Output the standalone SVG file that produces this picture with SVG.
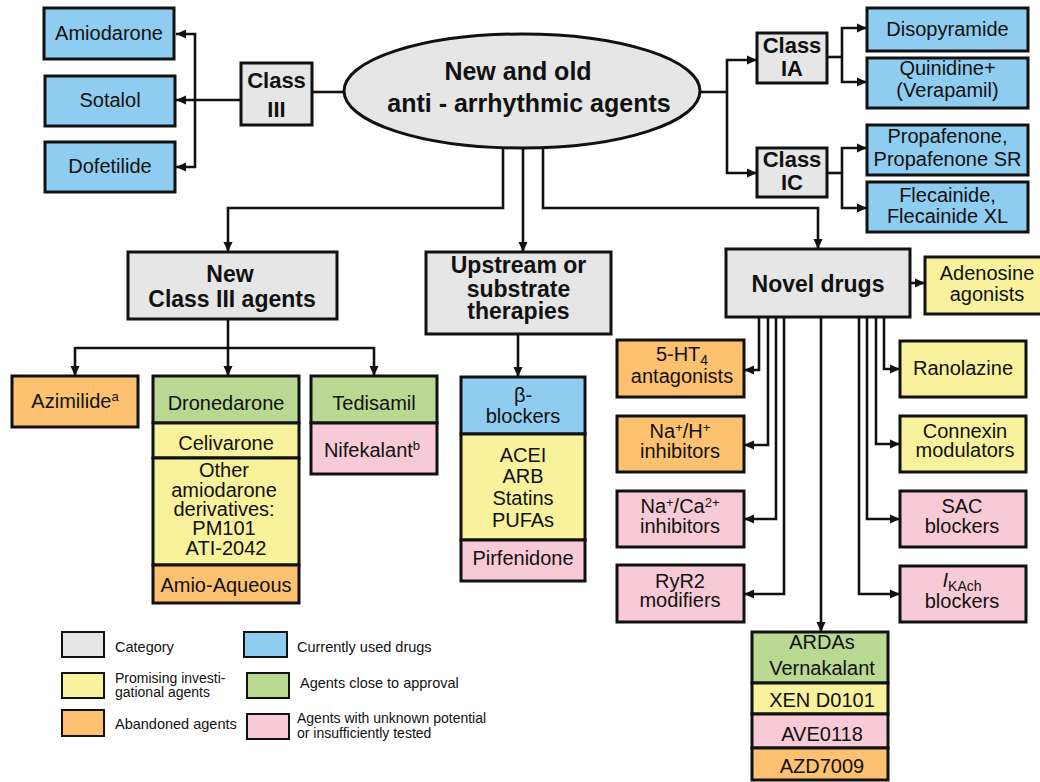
<svg xmlns="http://www.w3.org/2000/svg" width="1040" height="782" viewBox="0 0 1040 782">
<defs>
<style>
text{font-family:"Liberation Sans",Arial,sans-serif;fill:#111;text-anchor:middle}
.t{font-size:20px}
.h{font-size:23px;font-weight:bold}
.c{font-size:22px;font-weight:bold}
.lg{font-size:14.5px;text-anchor:start}
.lg2{font-size:14px;text-anchor:start}
.bx{stroke:#111;stroke-width:3}
.sw{stroke:#111;stroke-width:2}
.g{fill:#e6e6e6}.b{fill:#8fcdf0}.y{fill:#f9f29d}.gr{fill:#b9d992}.o{fill:#fdc170}.p{fill:#f8cad7}
.ln{stroke:#111;stroke-width:2.6;fill:none}
.ar{marker-end:url(#ah)}
</style>
<marker id="ah" markerUnits="userSpaceOnUse" markerWidth="10" markerHeight="10" viewBox="0 0 10 10" refX="10" refY="5" orient="auto">
<path d="M0,0.5 L10,5 L0,9.5 z" fill="#111"/>
</marker>
</defs>
<rect width="1040" height="782" fill="#fff"/>

<g id="connectors">
<path class="ln" d="M344,92 H312"/>
<path class="ln ar" d="M241,100 H176"/>
<path class="ln ar" d="M195,100 V34 H176"/>
<path class="ln ar" d="M195,100 V167 H176"/>
<path class="ln" d="M700,92 H727"/>
<path class="ln ar" d="M727,92 V60 H757"/>
<path class="ln ar" d="M727,92 V173 H757"/>
<path class="ln" d="M827,57 H842"/>
<path class="ln ar" d="M842,57 V28 H867"/>
<path class="ln ar" d="M842,57 V82 H867"/>
<path class="ln" d="M827,173 H842"/>
<path class="ln ar" d="M842,173 V148 H867"/>
<path class="ln ar" d="M842,173 V208 H867"/>
<path class="ln ar" d="M503,146 V208 H228 V252"/>
<path class="ln ar" d="M523,148 V252"/>
<path class="ln ar" d="M543,146 V208 H818 V249"/>
<path class="ln" d="M228,319 V348 H75"/>
<path class="ln" d="M228,348 H374"/>
<path class="ln ar" d="M75,347 V376"/>
<path class="ln ar" d="M228,347 V376"/>
<path class="ln ar" d="M374,347 V376"/>
<path class="ln ar" d="M518,334 V377"/>
<path class="ln ar" d="M910,283 H925"/>
<path class="ln ar" d="M759,317 V370 H744"/>
<path class="ln ar" d="M768,317 V445 H744"/>
<path class="ln ar" d="M776,317 V519 H744"/>
<path class="ln ar" d="M784,317 V594 H744"/>
<path class="ln ar" d="M821,317 V632"/>
<path class="ln ar" d="M884,317 V369 H900"/>
<path class="ln ar" d="M876,317 V444 H900"/>
<path class="ln ar" d="M867,317 V519 H900"/>
<path class="ln ar" d="M859,317 V594 H900"/>
</g>

<g id="root">
<ellipse cx="522" cy="91" rx="178" ry="57" class="g" stroke="#111" stroke-width="3"/>
<text x="518" y="80" style="font-size:25px;font-weight:bold">New and old</text>
<text x="529" y="112" style="font-size:25px;font-weight:bold">anti - arrhythmic agents</text>
</g>

<g id="class3">
<rect x="241" y="63" width="71" height="62" class="bx g"/>
<text class="c" x="276.5" y="88">Class</text>
<text class="c" x="276.5" y="117">III</text>
</g>
<g id="amiodarone"><rect x="44" y="8" width="130" height="51" class="bx b"/><text class="t" x="109" y="40">Amiodarone</text></g>
<g id="sotalol"><rect x="45" y="76" width="130" height="50" class="bx b"/><text class="t" x="110" y="107">Sotalol</text></g>
<g id="dofetilide"><rect x="45" y="142" width="130" height="50" class="bx b"/><text class="t" x="110" y="173">Dofetilide</text></g>

<g id="class1a"><rect x="757" y="33" width="70" height="50" class="bx g"/><text class="c" x="792" y="53">Class</text><text class="c" x="792" y="76">IA</text></g>
<g id="class1c"><rect x="757" y="148" width="70" height="49" class="bx g"/><text class="c" x="792" y="167">Class</text><text class="c" x="792" y="190">IC</text></g>
<g id="disopyramide"><rect x="867" y="8" width="161" height="43" class="bx b"/><text class="t" x="947.5" y="36">Disopyramide</text></g>
<g id="quinidine"><rect x="867" y="58" width="161" height="50" class="bx b"/><text class="t" x="947.5" y="75">Quinidine+</text><text class="t" x="947.5" y="97">(Verapamil)</text></g>
<g id="propafenone"><rect x="867" y="125" width="161" height="50" class="bx b"/><text class="t" x="947.5" y="143">Propafenone,</text><text class="t" x="947.5" y="166">Propafenone SR</text></g>
<g id="flecainide"><rect x="867" y="182" width="161" height="50" class="bx b"/><text class="t" x="947.5" y="202">Flecainide,</text><text class="t" x="947.5" y="223">Flecainide XL</text></g>

<g id="newclass3"><rect x="128" y="252" width="209" height="67" class="bx g"/><text class="h" x="230" y="282">New</text><text class="h" x="232" y="307">Class III agents</text></g>
<g id="azimilide"><rect x="12" y="376" width="126" height="51" class="bx o"/><text class="t" x="75" y="408">Azimilide<tspan font-size="13" baseline-shift="7">a</tspan></text></g>
<g id="dronedarone-stack">
<rect x="153" y="376" width="146" height="47" class="bx gr"/>
<rect x="153" y="423" width="146" height="35" class="bx y"/>
<rect x="153" y="458" width="146" height="107" class="bx y"/>
<rect x="153" y="565" width="146" height="38" class="bx o"/>
<text class="t" x="226" y="410">Dronedarone</text>
<text class="t" x="226" y="450">Celivarone</text>
<text class="t" x="224" y="477">Other</text>
<text class="t" x="224" y="497">amiodarone</text>
<text class="t" x="224" y="516">derivatives:</text>
<text class="t" x="224" y="535">PM101</text>
<text class="t" x="226" y="555">ATI-2042</text>
<text class="t" x="226" y="592">Amio-Aqueous</text>
</g>
<g id="tedisamil-stack">
<rect x="311" y="376" width="126" height="47" class="bx gr"/>
<rect x="311" y="423" width="126" height="51" class="bx p"/>
<text class="t" x="374" y="410">Tedisamil</text>
<text class="t" x="372" y="457">Nifekalant<tspan font-size="13" baseline-shift="7">b</tspan></text>
</g>

<g id="upstream"><rect x="426" y="252" width="185" height="82" class="bx g"/><text class="h" x="518.5" y="273">Upstream or</text><text class="h" x="518.5" y="297">substrate</text><text class="h" x="518.5" y="319">therapies</text></g>
<g id="upstream-stack">
<rect x="461" y="377" width="124" height="57" class="bx b"/>
<rect x="461" y="434" width="124" height="106" class="bx y"/>
<rect x="461" y="540" width="124" height="41" class="bx p"/>
<text class="t" x="523" y="402">β-</text>
<text class="t" x="523" y="423">blockers</text>
<text class="t" x="523" y="462">ACEI</text>
<text class="t" x="523" y="483">ARB</text>
<text class="t" x="523" y="505">Statins</text>
<text class="t" x="523" y="527">PUFAs</text>
<text class="t" x="523" y="565">Pirfenidone</text>
</g>

<g id="novel"><rect x="726" y="249" width="184" height="68" class="bx g"/><text class="h" x="818" y="292">Novel drugs</text></g>
<g id="adenosine"><rect x="925" y="257" width="122" height="57" class="bx y"/><text class="t" x="987" y="280">Adenosine</text><text class="t" x="987" y="301">agonists</text></g>
<g id="ht4"><rect x="617" y="340" width="127" height="57" class="bx o"/><text class="t" x="682" y="361">5-HT<tspan font-size="14" baseline-shift="-4">4</tspan></text><text class="t" x="682" y="383">antagonists</text></g>
<g id="nah"><rect x="617" y="416" width="127" height="56" class="bx o"/><text class="t" x="680" y="438">Na<tspan font-size="13" baseline-shift="6">+</tspan>/H<tspan font-size="13" baseline-shift="6">+</tspan></text><text class="t" x="680" y="458">inhibitors</text></g>
<g id="naca"><rect x="617" y="491" width="127" height="56" class="bx p"/><text class="t" x="680" y="513">Na<tspan font-size="13" baseline-shift="6">+</tspan>/Ca<tspan font-size="13" baseline-shift="6">2+</tspan></text><text class="t" x="680" y="533">inhibitors</text></g>
<g id="ryr2"><rect x="617" y="565" width="127" height="57" class="bx p"/><text class="t" x="680" y="588">RyR2</text><text class="t" x="680" y="607">modifiers</text></g>
<g id="ranolazine"><rect x="900" y="341" width="126" height="56" class="bx y"/><text class="t" x="963" y="375">Ranolazine</text></g>
<g id="connexin"><rect x="900" y="416" width="126" height="56" class="bx y"/><text class="t" x="965" y="438">Connexin</text><text class="t" x="965" y="457">modulators</text></g>
<g id="sac"><rect x="900" y="491" width="126" height="56" class="bx p"/><text class="t" x="962" y="513">SAC</text><text class="t" x="962" y="533">blockers</text></g>
<g id="ikach"><rect x="900" y="566" width="126" height="56" class="bx p"/><text class="t" x="962" y="587"><tspan font-style="italic">I</tspan><tspan font-size="14" baseline-shift="-4">KAch</tspan></text><text class="t" x="962" y="608">blockers</text></g>

<g id="ardas-stack">
<rect x="752" y="632" width="136" height="51" class="bx gr"/>
<rect x="752" y="683" width="136" height="31" class="bx y"/>
<rect x="752" y="714" width="136" height="34" class="bx p"/>
<rect x="752" y="748" width="136" height="32" class="bx o"/>
<text class="t" x="822" y="649">ARDAs</text>
<text class="t" x="822" y="675">Vernakalant</text>
<text class="t" x="822" y="707">XEN D0101</text>
<text class="t" x="822" y="741">AVE0118</text>
<text class="t" x="822" y="773">AZD7009</text>
</g>

<g id="legend">
<rect x="62" y="632" width="42" height="25" class="sw g"/><text class="lg" x="115" y="652">Category</text>
<rect x="62" y="673" width="42" height="25" class="sw y"/><text class="lg2" x="115" y="683">Promising investi-</text><text class="lg2" x="115" y="697">gational agents</text>
<rect x="62" y="710" width="42" height="26" class="sw o"/><text class="lg" x="115" y="729">Abandoned agents</text>
<rect x="244" y="632" width="43" height="25" class="sw b"/><text class="lg" x="297" y="652">Currently used drugs</text>
<rect x="247" y="673" width="42" height="25" class="sw gr"/><text class="lg" x="300" y="688">Agents close to approval</text>
<rect x="247" y="714" width="42" height="25" class="sw p"/><text class="lg2" x="297" y="723">Agents with unknown potential</text><text class="lg2" x="297" y="738">or insufficiently tested</text>
</g>
</svg>
